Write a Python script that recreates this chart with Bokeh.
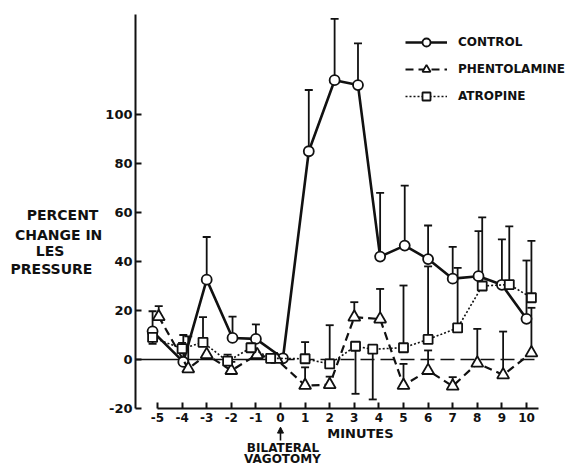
from bokeh.plotting import figure
from bokeh.models import (ColumnDataSource, Whisker, TeeHead, Legend, LegendItem,
                          FixedTicker, Label, Arrow, NormalHead, Range1d)
from bokeh.embed import file_html
from bokeh.resources import INLINE

# ---------------- data ----------------
tick_minutes = [-5, -4, -3, -2, -1, 0, 1, 2, 3, 4, 5, 6, 7, 8, 9, 10]
x_tick_labels = ["-5", "-4", "-3", "-2", "-1", "0", "1", "2", "3", "4", "5", "6", "7", "8", "9", "10"]
y_ticks = [-20, 0, 20, 40, 60, 80, 100]
y_tick_labels = ["-20", "0", "20", "40", "60", "80", "100"]

control_x = [-5.2, -3.95, -3.0, -1.95, -1.0, 0.1, 1.15, 2.2, 3.15, 4.05, 5.05, 6.0, 7.0, 8.05, 9.0, 10.0]
control_y = [11.5, -1.0, 32.6, 8.8, 8.4, 0.5, 85.0, 114.0, 112.0, 42.0, 46.5, 41.0, 33.0, 34.0, 30.5, 16.6]
control_hi = [19.7, 10.0, 50.0, 17.5, 14.3, None, 110.0, 139.0, 129.0, 68.0, 71.0, 54.7, 46.0, 52.4, 49.0, 40.4]

phent_x = [-4.95, -3.75, -3.0, -2.0, -0.95, -0.15, 1.0, 2.0, 3.0, 4.05, 5.0, 6.0, 7.0, 8.0, 9.05, 10.2]
phent_y = [17.5, -3.8, 2.0, -4.5, 2.0, 0.0, -10.6, -10.3, 17.3, 16.5, -10.6, -4.5, -10.9, -1.5, -6.3, 2.7]
phent_hi = [21.8, 9.4, None, -1.0, None, None, -3.2, -7.0, 23.4, 28.8, -1.8, 3.7, -7.2, 12.5, 11.4, 21.1]

atro_x = [-5.2, -4.0, -3.15, -2.15, -1.2, -0.4, 1.0, 2.0, 3.05, 3.75, 5.0, 6.0, 7.2, 8.2, 9.3, 10.2]
atro_y = [9.0, 4.4, 7.0, -0.7, 4.8, 0.5, 0.3, -1.8, 5.4, 4.2, 4.8, 8.2, 12.9, 30.0, 30.6, 25.2]
atro_hi = [None, 6.8, 17.3, 2.0, 6.5, None, 7.1, 14.0, None, None, 30.2, 38.0, 37.4, 58.0, 54.3, 48.4]
atro_lo = [6.4, None, None, None, None, None, None, None, -14.0, -16.3, None, None, None, None, None, None]

series_names = ["CONTROL", "PHENTOLAMINE", "ATROPINE"]
y_label_lines = ["PERCENT", "CHANGE IN", "LES", "PRESSURE"]

FONT = "DejaVu Sans"
INK = "#111111"
Y_AXIS_AT = -5.894
X_AXIS_AT = -20

p = figure(width=569, height=467, output_backend="svg", toolbar_location=None,
           x_range=Range1d(-11.382, 11.748), y_range=Range1d(-44.08, 146.53),
           min_border=0, min_border_left=0, min_border_right=0,
           min_border_top=0, min_border_bottom=0)
p.outline_line_color = None
p.xgrid.visible = False
p.ygrid.visible = False
p.background_fill_color = "white"
p.border_fill_color = "white"

# axes, drawn at fixed positions inside the frame
p.xaxis.fixed_location = X_AXIS_AT
p.yaxis.fixed_location = Y_AXIS_AT
p.xaxis.ticker = FixedTicker(ticks=tick_minutes)
p.xaxis.major_label_overrides = {t: s for t, s in zip(tick_minutes, x_tick_labels)}
p.xaxis.bounds = (-5, 10.5)
p.yaxis.ticker = FixedTicker(ticks=y_ticks)
p.yaxis.major_label_overrides = {t: s for t, s in zip(y_ticks, y_tick_labels)}
p.yaxis.bounds = (-20, 141)
for ax in (p.xaxis, p.yaxis):
    ax.axis_line_color = INK
    ax.axis_line_width = 2
    ax.major_tick_line_color = INK
    ax.major_tick_line_width = 2
    ax.major_tick_in = 6
    ax.major_tick_out = 0
    ax.minor_tick_line_color = None
    ax.major_label_text_font = FONT
    ax.major_label_text_font_style = "bold"
    ax.major_label_text_color = INK
p.xaxis.major_label_text_font_size = "12px"
p.yaxis.major_label_text_font_size = "13px"
p.xaxis.major_label_standoff = 4
p.yaxis.major_label_standoff = 3

# zero reference line: solid up to 0, dashed after
base_solid_x = [Y_AXIS_AT, 0]
base_dash_x = [0, 10.5]
p.line(base_solid_x, [0, 0], line_color=INK, line_width=1.6)
p.line(base_dash_x, [0, 0], line_color=INK, line_width=1.6, line_dash="14 6")


def add_whiskers(xs, hi, lo, ys):
    up = [(x, h, y) for x, h, y in zip(xs, hi, ys) if h is not None]
    if up:
        src = ColumnDataSource(dict(x=[u[0] for u in up], hi=[u[1] for u in up], lo=[u[2] for u in up]))
        p.add_layout(Whisker(source=src, base="x", upper="hi", lower="lo", dimension="height",
                             line_color=INK, line_width=1.8,
                             upper_head=TeeHead(size=8, line_color=INK, line_width=1.8),
                             lower_head=None))
    if lo is not None:
        dn = [(x, l, y) for x, l, y in zip(xs, lo, ys) if l is not None]
        if dn:
            src = ColumnDataSource(dict(x=[d[0] for d in dn], lo=[d[1] for d in dn], hi=[d[2] for d in dn]))
            p.add_layout(Whisker(source=src, base="x", upper="hi", lower="lo", dimension="height",
                                 line_color=INK, line_width=1.8,
                                 lower_head=TeeHead(size=8, line_color=INK, line_width=1.8),
                                 upper_head=None))


add_whiskers(control_x, control_hi, None, control_y)
add_whiskers(phent_x, phent_hi, None, phent_y)
add_whiskers(atro_x, atro_hi, atro_lo, atro_y)

r_cl = p.line(control_x, control_y, line_color=INK, line_width=2.6)
r_cm = p.scatter(control_x, control_y, marker="circle", size=10, fill_color="white",
                 line_color=INK, line_width=1.8)
r_pl = p.line(phent_x, phent_y, line_color=INK, line_width=2.2, line_dash="8 5")
r_pm = p.scatter(phent_x, phent_y, marker="triangle", size=12, fill_color="white",
                 line_color=INK, line_width=1.8)
r_al = p.line(atro_x, atro_y, line_color=INK, line_width=1.6, line_dash="2 2")
r_am = p.scatter(atro_x, atro_y, marker="square", size=9, fill_color="white",
                 line_color=INK, line_width=1.8)

legend = Legend(items=[
    LegendItem(label=series_names[0], renderers=[r_cl, r_cm]),
    LegendItem(label=series_names[1], renderers=[r_pl, r_pm]),
    LegendItem(label=series_names[2], renderers=[r_al, r_am]),
], location=(405, 361), orientation="vertical")
legend.background_fill_alpha = 0
legend.border_line_color = None
legend.padding = 0
legend.margin = 0
legend.spacing = 7
legend.glyph_width = 42
legend.glyph_height = 20
legend.label_height = 20
legend.label_standoff = 11
legend.label_text_font = FONT
legend.label_text_font_style = "bold"
legend.label_text_font_size = "12px"
legend.label_text_color = INK
p.add_layout(legend)

# y-axis title as stacked lines
ylab_x = [-8.86, -9.02, -9.37, -9.31]
ylab_y = [58.8, 50.9, 44.2, 37.0]
for t, lx, ly in zip(y_label_lines, ylab_x, ylab_y):
    p.add_layout(Label(x=lx, y=ly, text=t, text_align="center", text_baseline="alphabetic",
                       text_font=FONT, text_font_style="bold", text_font_size="14px",
                       text_color=INK))

p.add_layout(Label(x=3.25, y=-30.2, text="MINUTES", text_align="center",
                   text_baseline="alphabetic", text_font=FONT, text_font_style="bold",
                   text_font_size="13px", text_color=INK))
p.add_layout(Label(x=0.1, y=-36.3, text="BILATERAL", text_align="center",
                   text_baseline="alphabetic", text_font=FONT, text_font_style="bold",
                   text_font_size="12px", text_color=INK))
p.add_layout(Label(x=0.08, y=-40.6, text="VAGOTOMY", text_align="center",
                   text_baseline="alphabetic", text_font=FONT, text_font_style="bold",
                   text_font_size="12px", text_color=INK))
p.add_layout(Arrow(x_start=0, y_start=-33.1, x_end=0, y_end=-27.6, line_color=INK,
                   line_width=1.6,
                   end=NormalHead(size=6, fill_color=INK, line_color=INK)))

open("out.html", "w").write(file_html(p, INLINE))
